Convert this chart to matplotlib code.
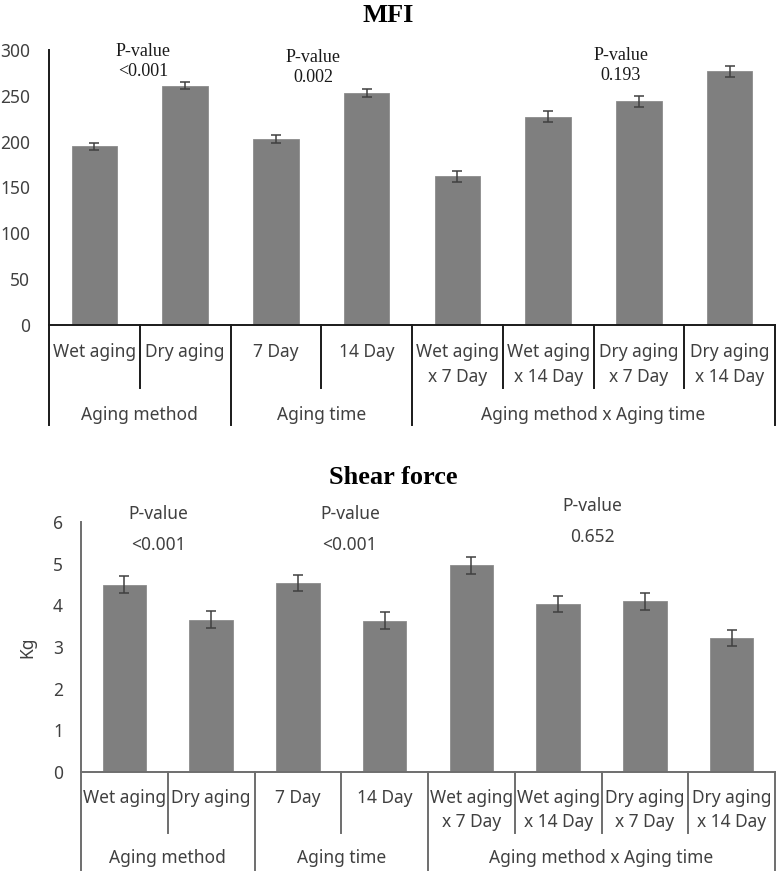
import matplotlib
matplotlib.use("Agg")
import matplotlib.pyplot as plt
from matplotlib.transforms import blended_transform_factory
import numpy as np

# ---------------- data ----------------
categories = ["Wet aging", "Dry aging", "7 Day", "14 Day",
              "Wet aging\nx 7 Day", "Wet aging\nx 14 Day",
              "Dry aging\nx 7 Day", "Dry aging\nx 14 Day"]
groups = ["Aging method", "Aging time", "Aging method x Aging time"]
group_sizes = [2, 2, 4]

mfi_values = [195, 261, 203, 253, 162, 227, 244, 277]
mfi_errors = [4, 4, 4, 4, 6, 6, 6, 6]
mfi_pvalues = ["<0.001", "0.002", "0.193"]
mfi_ticks = [0, 50, 100, 150, 200, 250, 300]

shear_values = [4.50, 3.66, 4.54, 3.63, 4.96, 4.03, 4.10, 3.22]
shear_errors = [0.2, 0.2, 0.2, 0.2, 0.2, 0.2, 0.2, 0.2]
shear_pvalues = ["<0.001", "<0.001", "0.652"]
shear_ticks = [0, 1, 2, 3, 4, 5, 6]

# ---------------- layout ----------------
W, H = 777, 874
fig = plt.figure(figsize=(W / 100, H / 100), dpi=100)
SANS = ["Noto Sans", "DejaVu Sans"]
SERIF = ["Liberation Serif", "DejaVu Serif"]
TXT = "#404040"
BAR = "#7f7f7f"


def fy(ypix):
    return 1 - ypix / H


def make_panel(left, right, top, bottom, values, errors, ticks, line_color,
               cat_y1, cat_y2, inner_end, group_y, group_end, tick_pad):
    ax = fig.add_axes([left / W, fy(bottom), (right - left) / W, (bottom - top) / H])
    x = np.arange(len(values))
    ax.bar(x, values, width=0.5, color=BAR, edgecolor="#8c8c8c", linewidth=0.6, zorder=2)
    ax.errorbar(x, values, yerr=errors, fmt="none", ecolor="#404040",
                elinewidth=1.1, capsize=3.8, capthick=1.1, zorder=3)
    ax.set_xlim(-0.5, len(values) - 0.5)
    ax.set_ylim(ticks[0], ticks[-1])
    ax.set_yticks(ticks)
    ax.set_yticklabels([str(t) for t in ticks], family=SANS, fontsize=12.5, color=TXT)
    ax.tick_params(axis="y", length=0, pad=tick_pad)
    ax.set_xticks([])
    for s in ["top", "right"]:
        ax.spines[s].set_visible(False)
    for s in ["left", "bottom"]:
        ax.spines[s].set_color(line_color)
        ax.spines[s].set_linewidth(1.4)
    tr = blended_transform_factory(ax.transData, fig.transFigure)
    # category labels
    for i, c in enumerate(categories):
        if "\n" in c:
            a, b = c.split("\n")
            ax.text(i, fy(cat_y1), a, transform=tr, ha="center", va="center",
                    family=SANS, fontsize=12.5, color=TXT)
            ax.text(i, fy(cat_y2), b, transform=tr, ha="center", va="center",
                    family=SANS, fontsize=12.5, color=TXT)
        else:
            ax.text(i, fy(cat_y1), c, transform=tr, ha="center", va="center",
                    family=SANS, fontsize=12.5, color=TXT)
    # separators
    bounds = np.cumsum([0] + group_sizes) - 0.5
    for b in bounds:
        ax.plot([b, b], [fy(bottom), fy(group_end)], transform=tr, color=line_color,
                lw=1.4, clip_on=False, zorder=1)
    for i in range(len(values) - 1):
        b = i + 0.5
        if b not in bounds:
            ax.plot([b, b], [fy(bottom), fy(inner_end)], transform=tr, color=line_color,
                    lw=1.4, clip_on=False, zorder=1)
    for g, (a0, a1) in zip(groups, zip(bounds[:-1], bounds[1:])):
        ax.text((a0 + a1) / 2, fy(group_y), g, transform=tr, ha="center", va="center",
                family=SANS, fontsize=12.5, color=TXT)
    return ax, tr


# ---------------- MFI panel ----------------
ax1, tr1 = make_panel(49, 775, 50, 325, mfi_values, mfi_errors, mfi_ticks, "#1a1a1a",
                      352, 377, 388, 415, 425, 13.5)
fig.text(388 / W, fy(15), "MFI", ha="center", va="center", family=SERIF,
         fontsize=19, fontweight="bold", color="black")
mfi_p_pos = [(0.54, 52, 72), (2.41, 57, 78), (5.80, 56, 76)]
for (px, y1, y2), p in zip(mfi_p_pos, mfi_pvalues):
    ax1.text(px, fy(y1), "P-value", transform=tr1, ha="center", va="center",
             family=SERIF, fontsize=13, color="#1a1a1a")
    ax1.text(px, fy(y2), p, transform=tr1, ha="center", va="center",
             family=SERIF, fontsize=13, color="#1a1a1a")

# ---------------- Shear force panel ----------------
ax2, tr2 = make_panel(81, 775, 522, 772, shear_values, shear_errors, shear_ticks, "#6e6e6e",
                      798, 822, 833, 858, 870, 13)
ax2.set_ylabel("Kg", family=SANS, fontsize=12.5, color=TXT, labelpad=12)
fig.text(393 / W, fy(478), "Shear force", ha="center", va="center", family=SERIF,
         fontsize=19, fontweight="bold", color="black")
shear_p_pos = [(0.39, 514, 545), (2.60, 514, 545), (5.39, 506, 537)]
for (px, y1, y2), p in zip(shear_p_pos, shear_pvalues):
    ax2.text(px, fy(y1), "P-value", transform=tr2, ha="center", va="center",
             family=SANS, fontsize=12.5, color=TXT)
    ax2.text(px, fy(y2), p, transform=tr2, ha="center", va="center",
             family=SANS, fontsize=12.5, color=TXT)

fig.savefig("out.png", dpi=100)
